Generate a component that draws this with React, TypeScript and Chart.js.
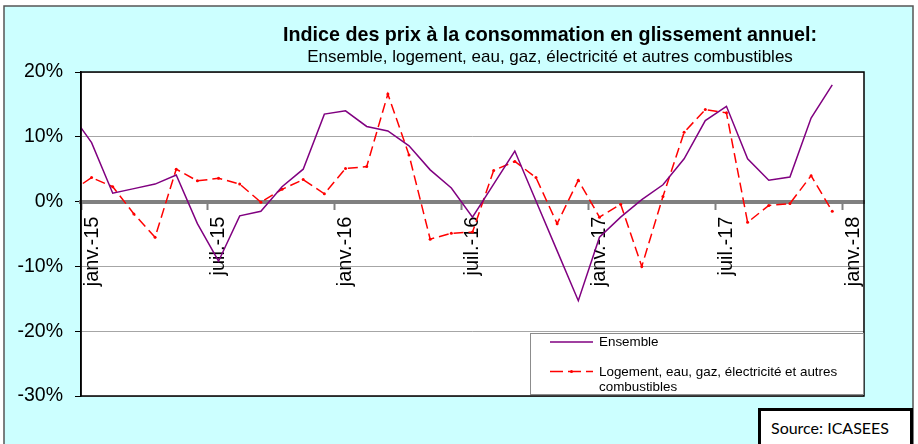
import React, { useEffect, useRef } from 'react';
import { Chart, registerables } from 'chart.js';

Chart.register(...registerables);

// Months (mid-month observations), from déc.-14 to déc.-17
const months = [
  'déc.-14',
  'janv.-15', 'févr.-15', 'mars-15', 'avr.-15', 'mai-15', 'juin-15', 'juil.-15', 'août-15', 'sept.-15', 'oct.-15', 'nov.-15', 'déc.-15',
  'janv.-16', 'févr.-16', 'mars-16', 'avr.-16', 'mai-16', 'juin-16', 'juil.-16', 'août-16', 'sept.-16', 'oct.-16', 'nov.-16', 'déc.-16',
  'janv.-17', 'févr.-17', 'mars-17', 'avr.-17', 'mai-17', 'juin-17', 'juil.-17', 'août-17', 'sept.-17', 'oct.-17', 'nov.-17', 'déc.-17',
];

const ensemble = [
  13.7,
  9.1, 1.3, 2.0, 2.7, 4.1, -3.4, -9.2, -2.2, -1.5, 2.3, 5.0, 13.5,
  14.0, 11.6, 10.9, 8.6, 4.9, 2.1, -2.4, 2.7, 7.8, 0.1, -7.6, -15.3,
  -5.5, -2.4, 0.3, 2.6, 6.6, 12.5, 14.7, 6.6, 3.3, 3.8, 12.9, 18.0,
];

const logement = [
  1.5,
  3.7, 2.3, -1.9, -5.5, 5.0, 3.2, 3.6, 2.7, -0.1, 1.9, 3.4, 1.2,
  5.1, 5.4, 16.6, 7.2, -5.8, -4.9, -4.7, 4.8, 6.2, 3.7, -3.4, 3.3,
  -2.4, -0.4, -10.0, 0.8, 10.7, 14.2, 13.7, -3.2, -0.6, -0.3, 4.0, -1.5,
];

const axisLabels = ['janv.-15', 'juil.-15', 'janv.-16', 'juil.-16', 'janv.-17', 'juil.-17', 'janv.-18'];
const yTicks = [20, 10, 0, -10, -20, -30];

const seriesNames = ['Ensemble', 'Logement, eau, gaz, électricité et autres combustibles'];
const titleText = 'Indice des prix à la consommation en glissement annuel:';
const subtitleText = 'Ensemble, logement, eau, gaz, électricité et autres combustibles';
const sourceText = 'Source: ICASEES';

// month index relative to 1 Jan 2015, observation at mid-month
const toPoints = (vals: number[]) => vals.map((v, i) => ({ x: i - 0.5, y: v }));

const PURPLE = '#800080';
const RED = '#FF0000';
const FONT = '"Liberation Sans", Arial, sans-serif';

const bgPlugin = {
  id: 'bgPlugin',
  beforeDraw(chart: any) {
    const { ctx, width, height, chartArea } = chart;
    ctx.save();
    ctx.fillStyle = '#ffffff';
    ctx.fillRect(0, 0, width, height);
    ctx.fillStyle = '#CCFFFF';
    ctx.fillRect(4, 6, 909, height);
    ctx.strokeStyle = '#555555';
    ctx.lineWidth = 1.5;
    ctx.strokeRect(4, 6, 909, height + 20);
    ctx.fillStyle = '#ffffff';
    ctx.fillRect(chartArea.left, chartArea.top, chartArea.right - chartArea.left, chartArea.bottom - chartArea.top);
    ctx.restore();
  },
  afterDatasetsDraw(chart: any) {
    const { ctx, chartArea } = chart;
    ctx.save();
    ctx.strokeStyle = '#000000';
    ctx.lineWidth = 1.5;
    ctx.strokeRect(chartArea.left, chartArea.top, chartArea.right - chartArea.left, chartArea.bottom - chartArea.top);
    // legend box
    const bx = chartArea.right - 334;
    const by = chartArea.bottom - 63;
    const bw = 333;
    const bh = 61;
    ctx.fillStyle = '#ffffff';
    ctx.fillRect(bx, by, bw, bh);
    ctx.strokeStyle = '#8c8c8c';
    ctx.lineWidth = 1;
    ctx.strokeRect(bx + 0.5, by + 0.5, bw, bh);
    // sample lines
    const sx0 = bx + 20;
    const sx1 = bx + 63;
    ctx.lineWidth = 1.5;
    ctx.strokeStyle = PURPLE;
    ctx.beginPath();
    ctx.moveTo(sx0, by + 9);
    ctx.lineTo(sx1, by + 9);
    ctx.stroke();
    ctx.strokeStyle = RED;
    ctx.setLineDash([13, 5]);
    ctx.beginPath();
    ctx.moveTo(sx0, by + 38.5);
    ctx.lineTo(sx1, by + 38.5);
    ctx.stroke();
    ctx.setLineDash([]);
    ctx.fillStyle = RED;
    ctx.beginPath();
    ctx.arc((sx0 + sx1) / 2, by + 38.5, 1.5, 0, Math.PI * 2);
    ctx.fill();
    // texts
    ctx.fillStyle = '#000000';
    ctx.font = `13.4px ${FONT}`;
    ctx.textBaseline = 'alphabetic';
    ctx.textAlign = 'left';
    ctx.fillText(seriesNames[0], bx + 69, by + 13);
    const words = seriesNames[1].split(' ');
    const line1 = words.slice(0, words.length - 1).join(' ');
    const line2 = words[words.length - 1];
    ctx.fillText(line1, bx + 69, by + 43);
    ctx.fillText(line2, bx + 69, by + 58);
    ctx.restore();
  },
};

export default function App() {
  const canvasRef = useRef<HTMLCanvasElement | null>(null);

  useEffect(() => {
    if (!canvasRef.current) return;
    const chart = new Chart(canvasRef.current, {
      type: 'line',
      data: {
        datasets: [
          {
            label: seriesNames[0],
            data: toPoints(ensemble),
            borderColor: PURPLE,
            backgroundColor: PURPLE,
            borderWidth: 1.5,
            pointRadius: 0,
            fill: false,
            tension: 0,
          },
          {
            label: seriesNames[1],
            data: toPoints(logement),
            borderColor: RED,
            backgroundColor: RED,
            borderWidth: 1.5,
            borderDash: [10, 5],
            pointRadius: 1.5,
            pointBorderWidth: 0,
            pointBackgroundColor: RED,
            fill: false,
            tension: 0,
          },
        ],
      },
      options: {
        animation: false,
        responsive: true,
        maintainAspectRatio: false,
        events: [],
        layout: { padding: { left: 0, right: 54, top: 72, bottom: 48 } },
        plugins: {
          legend: { display: false },
          tooltip: { enabled: false },
          title: { display: false },
        },
        scales: {
          x: {
            type: 'linear',
            position: { y: 0 } as any,
            min: 0,
            max: 37,
            afterBuildTicks: (s: any) => {
              s.ticks = axisLabels.map((_, i) => ({ value: i * 6 }));
            },
            ticks: {
              autoSkip: false,
              minRotation: 90,
              maxRotation: 90,
              labelOffset: 11,
              padding: 9,
              color: '#000000',
              font: { family: FONT, size: 20 },
              callback: (v: any) => axisLabels[Math.round(Number(v) / 6)] ?? '',
            },
            grid: {
              drawOnChartArea: false,
              drawTicks: true,
              tickLength: 6,
              tickColor: '#808080',
              tickWidth: 2,
            },
            border: { display: true, color: '#808080', width: 4 },
          },
          y: {
            type: 'linear',
            min: -30,
            max: 20,
            afterBuildTicks: (s: any) => {
              s.ticks = yTicks.map((v) => ({ value: v }));
            },
            afterFit: (s: any) => {
              s.width = 81;
            },
            ticks: {
              color: '#000000',
              padding: 12,
              font: { family: FONT, size: 19.5 },
              callback: (v: any) => `${v}%`,
            },
            grid: {
              color: '#A6A6A6',
              lineWidth: 1,
              tickLength: 6,
              tickColor: '#000000',
            },
            border: { display: true, color: '#000000', width: 1.5 },
          },
        },
      },
      plugins: [bgPlugin],
    });
    return () => chart.destroy();
  }, []);

  return (
    <div style={{ position: 'absolute', left: 0, top: 0, width: 918, height: 444, overflow: 'hidden', background: '#fff' }}>
      <div style={{ position: 'absolute', left: 0, top: 0, width: 918, height: 444 }}>
        <canvas ref={canvasRef} />
      </div>
      <div
        style={{
          position: 'absolute', left: 200, width: 700, top: 25, textAlign: 'center', whiteSpace: 'nowrap',
          font: `bold 19.7px ${FONT}`, lineHeight: '19.7px', color: '#000',
        }}
      >
        {titleText}
      </div>
      <div
        style={{
          position: 'absolute', left: 200, width: 700, top: 47.5, textAlign: 'center', whiteSpace: 'nowrap',
          font: `17px ${FONT}`, lineHeight: '17px', color: '#000',
        }}
      >
        {subtitleText}
      </div>
      <div
        style={{
          position: 'absolute', left: 758, top: 408, width: 149, height: 60, border: '3px solid #000',
          background: '#fff', boxSizing: 'content-box',
        }}
      >
        <div style={{ position: 'absolute', left: 10, top: 7, font: '16px Lato, sans-serif', lineHeight: '20px', color: '#000', whiteSpace: 'nowrap' }}>
          {sourceText}
        </div>
      </div>
    </div>
  );
}
